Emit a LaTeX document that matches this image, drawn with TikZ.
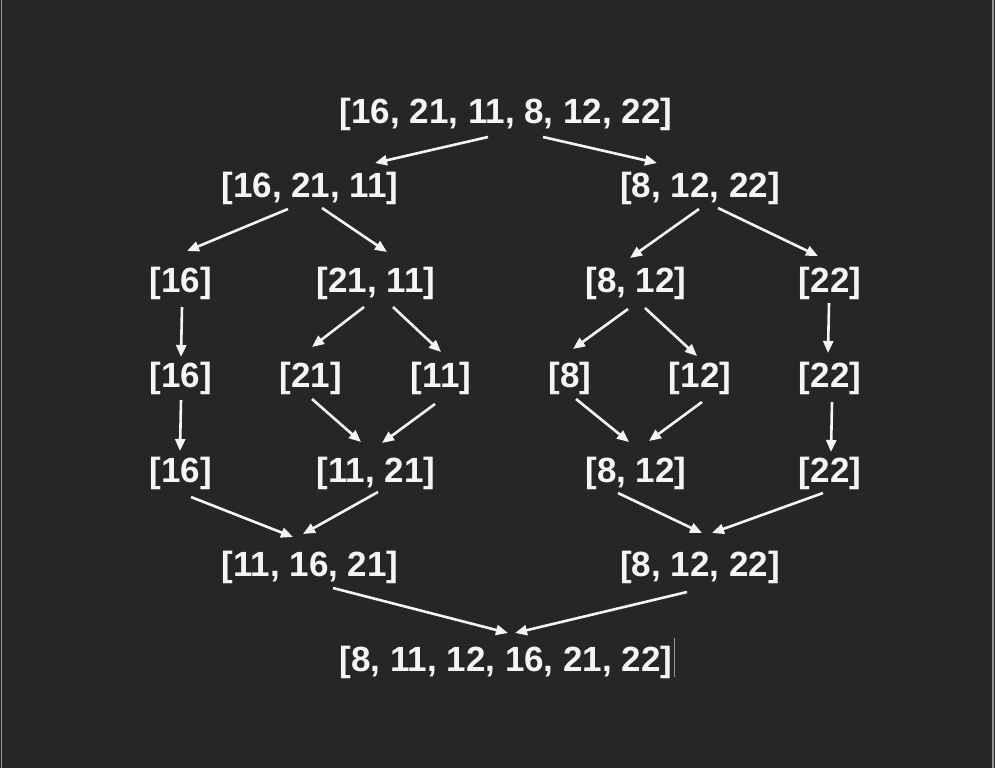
\documentclass[tikz,border=0pt]{standalone}
\usepackage{fontspec}
\setmainfont{Liberation Sans}
\usetikzlibrary{arrows.meta}
\definecolor{bgdark}{RGB}{38,38,38}
\definecolor{edgegray}{RGB}{150,150,150}
\definecolor{txtwhite}{RGB}{245,245,245}

\begin{document}
\begin{tikzpicture}[x=1pt,y=-1pt,
  lst/.style={anchor=base,inner sep=0pt,text=txtwhite,font=\fontsize{35}{42}\selectfont\bfseries},
  arr/.style={-{Triangle[length=12pt,width=10pt]},txtwhite,line width=2.6pt}]
  % background and side edges
  \fill[bgdark](0,0) rectangle (995,768);
  \useasboundingbox(0,0) rectangle (995,768);
  \draw[edgegray,line width=1.2pt](1.5,0)--(1.5,768);
  \draw[edgegray,line width=1.2pt](993,0)--(993,768);
  % split rows
  \node[lst] (root) at (506,123){[16, 21, 11, 8, 12, 22]};
  \node[lst] (a) at (310,197){[16, 21, 11]};
  \node[lst] (b) at (700,197){[8, 12, 22]};
  \node[lst] (a1) at (181,292){[16]};
  \node[lst] (a2) at (376,292){[21, 11]};
  \node[lst] (b1) at (636,292){[8, 12]};
  \node[lst] (b2) at (830,292){[22]};
  \node[lst] (c1) at (181,387){[16]};
  \node[lst] (c2) at (311,387){[21]};
  \node[lst] (c3) at (441,387){[11]};
  \node[lst] (c4) at (570,387){[8]};
  \node[lst] (c5) at (700,387){[12]};
  \node[lst] (c6) at (830,387){[22]};
  % merge rows
  \node[lst] (d1) at (181,482){[16]};
  \node[lst] (d2) at (376,482){[11, 21]};
  \node[lst] (d3) at (636,482){[8, 12]};
  \node[lst] (d4) at (830,482){[22]};
  \node[lst] (e1) at (310,576){[11, 16, 21]};
  \node[lst] (e2) at (700,576){[8, 12, 22]};
  \node[lst] (fin) at (506,671){[8, 11, 12, 16, 21, 22]};
  % text cursor after the result
  \draw[edgegray,line width=0.8pt]([shift={(2,-33)}]fin.base east)--([shift={(2,6)}]fin.base east);
  % split arrows
  \draw[arr]([shift={(-18,14)}]root.base)--([shift={(65,-34)}]a.base);
  \draw[arr]([shift={(37,14)}]root.base)--([shift={(-43,-34)}]b.base);
  \draw[arr]([shift={(-22,12)}]a.base)--([shift={(6,-41)}]a1.base);
  \draw[arr]([shift={(12,11)}]a.base)--([shift={(11,-40)}]a2.base);
  \draw[arr]([shift={(-1,12)}]b.base)--([shift={(-6,-34)}]b1.base);
  \draw[arr]([shift={(18,11)}]b.base)--([shift={(-12,-36)}]b2.base);
  \draw[arr]([shift={(1,15)}]a1.base)--([shift={(0,-30)}]c1.base);
  \draw[arr]([shift={(-12,15)}]a2.base)--([shift={(1,-40)}]c2.base);
  \draw[arr]([shift={(17,15)}]a2.base)--([shift={(0,-35)}]c3.base);
  \draw[arr]([shift={(-8,17)}]b1.base)--([shift={(3,-38)}]c4.base);
  \draw[arr]([shift={(9,16)}]b1.base)--([shift={(-3,-31)}]c5.base);
  \draw[arr]([shift={(-1,11)}]b2.base)--([shift={(-2,-34)}]c6.base);
  % merge arrows
  \draw[arr]([shift={(0,13)}]c1.base)--([shift={(-1,-31)}]d1.base);
  \draw[arr]([shift={(1,12)}]c2.base)--([shift={(-15,-40)}]d2.base);
  \draw[arr]([shift={(-6,17)}]c3.base)--([shift={(6,-39)}]d2.base);
  \draw[arr]([shift={(6,12)}]c4.base)--([shift={(-7,-40)}]d3.base);
  \draw[arr]([shift={(2,15)}]c5.base)--([shift={(13,-41)}]d3.base);
  \draw[arr]([shift={(2,15)}]c6.base)--([shift={(1,-30)}]d4.base);
  \draw[arr]([shift={(10,15)}]d1.base)--([shift={(-17,-39)}]e1.base);
  \draw[arr]([shift={(2,10)}]d2.base)--([shift={(-7,-42)}]e1.base);
  \draw[arr]([shift={(-18,11)}]d3.base)--([shift={(2,-43)}]e2.base);
  \draw[arr]([shift={(-7,11)}]d4.base)--([shift={(12,-43)}]e2.base);
  \draw[arr]([shift={(23,12)}]e1.base)--([shift={(2,-38)}]fin.base);
  \draw[arr]([shift={(-13,16)}]e2.base)--([shift={(9,-38)}]fin.base);
\end{tikzpicture}
\end{document}
